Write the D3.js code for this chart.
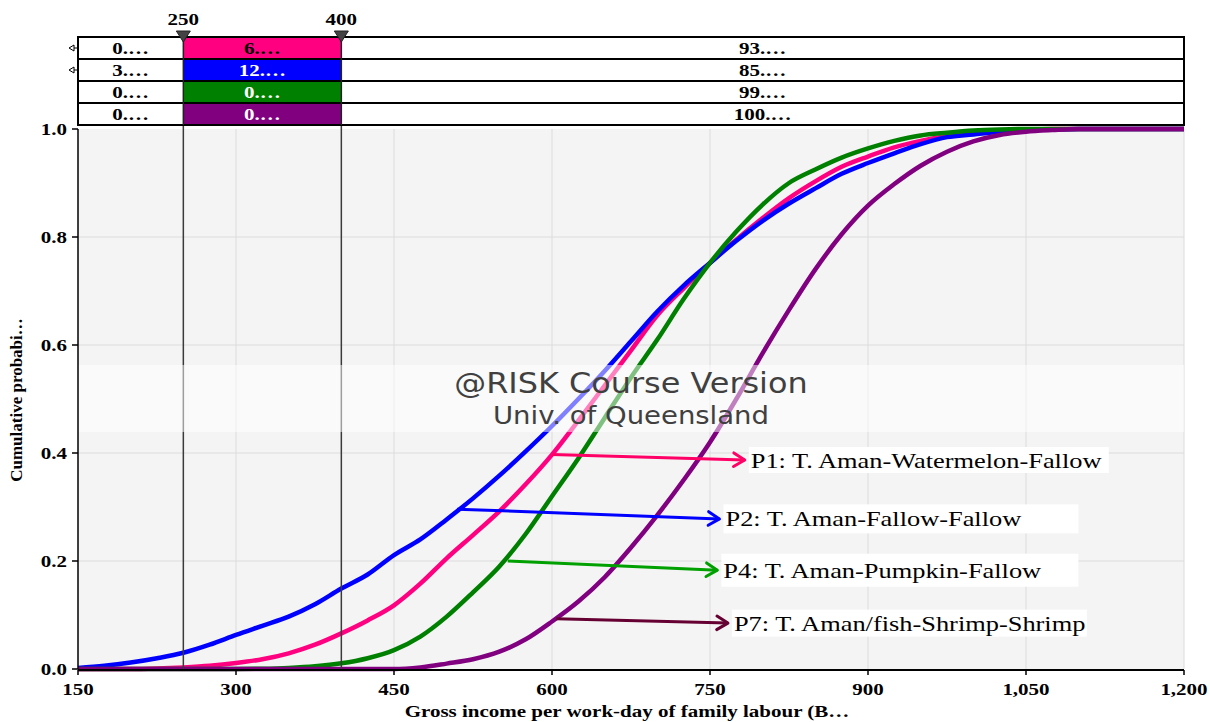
<!DOCTYPE html>
<html><head><meta charset="utf-8">
<script src="https://cdn.jsdelivr.net/npm/d3@7"></script>
<style>
body{margin:0;background:#fff;}
svg text{font-family:"Liberation Serif","Times New Roman",serif;}
</style>
</head><body>
<svg id="c" width="1210" height="722"></svg>
<script>
// ---------------- data ----------------
const incomeSteps = [150,175,200,225,250,275,300,325,350,375,400,425,450,475,500,525,550,575,600,625,650,675,700,725,750,775,800,825,850,875,900,925,950,975,1000,1025,1050,1075,1100,1125,1150,1175,1200];
const seriesNames = ["P1: T. Aman-Watermelon-Fallow","P2: T. Aman-Fallow-Fallow","P4: T. Aman-Pumpkin-Fallow","P7: T. Aman/fish-Shrimp-Shrimp"];
const cdfP1 = [0,0,0,0.001,0.003,0.006,0.011,0.018,0.029,0.045,0.066,0.09,0.118,0.158,0.205,0.248,0.292,0.342,0.397,0.46,0.525,0.59,0.655,0.705,0.752,0.795,0.835,0.872,0.903,0.93,0.949,0.966,0.978,0.987,0.993,0.997,0.999,1,1,1,1,1,1];
const cdfP2 = [0.002,0.006,0.012,0.02,0.03,0.045,0.063,0.08,0.097,0.12,0.149,0.175,0.211,0.24,0.277,0.316,0.358,0.403,0.45,0.5,0.552,0.607,0.662,0.71,0.752,0.793,0.83,0.862,0.89,0.917,0.937,0.955,0.972,0.985,0.99,0.995,0.998,0.999,1,1,1,1,1];
const cdfP4 = [0,0,0,0,0,0,0,0.0005,0.002,0.005,0.0105,0.02,0.035,0.06,0.097,0.142,0.19,0.25,0.32,0.39,0.465,0.54,0.61,0.685,0.752,0.81,0.86,0.9,0.925,0.947,0.964,0.978,0.988,0.993,0.997,0.999,1,1,1,1,1,1,1];
const cdfP7 = [0,0,0,0,0,0,0,0,0,0,0,0,0,0.003,0.01,0.018,0.032,0.055,0.088,0.125,0.17,0.225,0.285,0.35,0.42,0.5,0.585,0.665,0.74,0.805,0.858,0.898,0.932,0.958,0.977,0.989,0.995,0.998,1,1,1,1,1];
const xTicks = [150,300,450,600,750,900,1050,1200];
const yTicks = [0,0.2,0.4,0.6,0.8,1.0];
const markerValues = [250,400];
const bandLeft = ["0.…","3.…","0.…","0.…"];
const bandMid = ["6.…","12.…","0.…","0.…"];
const bandRight = ["93.…","85.…","99.…","100.…"];
const annoFromX = [600,510,558,604];
const annoFromY = [0.397,0.296,0.200,0.093];
const annoToX = [783,759,757,767];
const annoToY = [0.387,0.278,0.183,0.085];

// ---------------- style ----------------
const curveColors = ["#ff0080","#0000ff","#008000","#800080"];
const arrowColors = ["#ff0066","#0000ff","#00a000","#660033"];
const bandTextColors = ["#000","#fff","#fff","#fff"];
const boxW = [360,355,357,355], boxH = [26,29,33,27];
const SX = 1.2;
const FS = 17.5;

const svg = d3.select("#c");
const x = d3.scaleLinear().domain([150,1200]).range([78,1184]);
const y = d3.scaleLinear().domain([0,1]).range([669,129]);

function stretch(sel, anchor, s){
  sel.style("transform-box","fill-box")
     .style("transform-origin", anchor==="start"?"left center":anchor==="end"?"right center":"center")
     .style("transform","scaleX("+(s||SX)+")");
  return sel;
}

// plot background
svg.append("rect").attr("x",x(150)).attr("y",y(1)).attr("width",x(1200)-x(150)).attr("height",y(0)-y(1)).attr("fill","#f4f4f4");
// grid
svg.append("g").selectAll("line").data(xTicks.slice(1)).join("line")
  .attr("x1",d=>x(d)).attr("x2",d=>x(d)).attr("y1",y(1)).attr("y2",y(0)).attr("stroke","#dcdcdc").attr("stroke-width",1);
svg.append("g").selectAll("line").data(yTicks.slice(1,5)).join("line")
  .attr("x1",x(150)).attr("x2",x(1200)).attr("y1",d=>y(d)).attr("y2",d=>y(d)).attr("stroke","#dcdcdc").attr("stroke-width",1);

// curves
const allCdfs = [cdfP1,cdfP2,cdfP4,cdfP7];
const line = d3.line().x((d,i)=>x(incomeSteps[i])).y(d=>y(d)).curve(d3.curveMonotoneX);
svg.append("g").selectAll("path").data(allCdfs).join("path")
  .attr("d",d=>line(d)).attr("fill","none").attr("stroke",(d,i)=>curveColors[i]).attr("stroke-width",4.5).attr("stroke-linejoin","round");

// marker vertical lines
svg.append("g").selectAll("line").data(markerValues).join("line")
  .attr("x1",d=>x(d)).attr("x2",d=>x(d)).attr("y1",37).attr("y2",y(0)).attr("stroke","#3a3a3a").attr("stroke-width",1.5);

// watermark band
svg.append("rect").attr("x",x(150)).attr("y",365).attr("width",x(1200)-x(150)).attr("height",67).attr("fill","#fff").attr("opacity",0.5);
const mid = (x(150)+x(1200))/2;
stretch(svg.append("text").attr("x",mid).attr("y",393).attr("text-anchor","middle").style("font-family","'DejaVu Sans',sans-serif").attr("font-size",29).attr("fill","#404040").text("@RISK Course Version"),"middle",1.1);
stretch(svg.append("text").attr("x",mid).attr("y",424).attr("text-anchor","middle").style("font-family","'DejaVu Sans',sans-serif").attr("font-size",25).attr("fill","#404040").text("Univ. of Queensland"),"middle",1.1);

// annotations
const ann = svg.append("g");
seriesNames.forEach((name,i)=>{
  const x1=x(annoFromX[i]), y1=y(annoFromY[i]), x2=x(annoToX[i]), y2=y(annoToY[i]);
  ann.append("line").attr("x1",x1).attr("y1",y1).attr("x2",x2).attr("y2",y2).attr("stroke",arrowColors[i]).attr("stroke-width",3);
  const ang = Math.atan2(y2-y1,x2-x1);
  const L=13, A=0.55;
  ann.append("path").attr("d",`M${x2-L*Math.cos(ang-A)},${y2-L*Math.sin(ang-A)}L${x2},${y2}L${x2-L*Math.cos(ang+A)},${y2-L*Math.sin(ang+A)}`)
    .attr("fill","none").attr("stroke",arrowColors[i]).attr("stroke-width",3).attr("stroke-linejoin","round").attr("stroke-linecap","round");
  const bx = x2+4, by = y2 - boxH[i]/2;
  ann.append("rect").attr("x",bx).attr("y",by).attr("width",boxW[i]).attr("height",boxH[i]).attr("fill","#fff");
  stretch(ann.append("text").attr("x",bx+2).attr("y",y2+7.5).attr("font-size",22).attr("fill","#000").text(name),"start");
});

// axes
svg.append("line").attr("x1",x(150)).attr("x2",x(150)).attr("y1",y(1)).attr("y2",y(0)).attr("stroke","#000").attr("stroke-width",1.5);
svg.append("line").attr("x1",x(150)).attr("x2",x(1200)).attr("y1",y(0)+1).attr("y2",y(0)+1).attr("stroke","#000").attr("stroke-width",2);
svg.append("g").selectAll("line").data(yTicks).join("line")
  .attr("x1",x(150)-6).attr("x2",x(150)).attr("y1",d=>y(d)).attr("y2",d=>y(d)).attr("stroke","#000").attr("stroke-width",1.5);
svg.append("g").selectAll("line").data(xTicks).join("line")
  .attr("x1",d=>x(d)).attr("x2",d=>x(d)).attr("y1",y(0)+1).attr("y2",y(0)+6).attr("stroke","#000").attr("stroke-width",1.5);
const yl = svg.append("g").selectAll("text").data(yTicks).join("text")
  .attr("x",x(150)-11).attr("y",d=>y(d)+6).attr("text-anchor","end").attr("font-size",FS).attr("font-weight","bold").text(d3.format(".1f"));
stretch(yl,"end");
const fmt = d3.format(",");
const xl = svg.append("g").selectAll("text").data(xTicks).join("text")
  .attr("x",d=>x(d)).attr("y",y(0)+26).attr("text-anchor","middle").attr("font-size",FS).attr("font-weight","bold").text(d=>fmt(d));
stretch(xl,"middle");
stretch(svg.append("text").attr("x",627).attr("y",717).attr("text-anchor","middle").attr("font-size",FS).attr("font-weight","bold").text("Gross income per work-day of family labour (B…"),"middle");
svg.append("text").attr("transform","translate(22,400) rotate(-90)").attr("text-anchor","middle").attr("font-size",17).attr("font-weight","bold").text("Cumulative probabi…");

// top band table
const rowTop = 37, rowH = 22;
const tb = svg.append("g");
bandLeft.forEach((t,i)=>{
  const ry = rowTop + i*rowH;
  tb.append("rect").attr("x",x(150)).attr("y",ry).attr("width",x(1200)-x(150)).attr("height",rowH).attr("fill","#fff");
  tb.append("rect").attr("x",x(markerValues[0])).attr("y",ry).attr("width",x(markerValues[1])-x(markerValues[0])).attr("height",rowH).attr("fill",curveColors[i]);
  tb.append("rect").attr("x",x(150)).attr("y",ry).attr("width",x(1200)-x(150)).attr("height",rowH).attr("fill","none").attr("stroke","#000").attr("stroke-width",2);
  const cy = ry + rowH/2 + 6;
  stretch(tb.append("text").attr("x",(x(150)+x(markerValues[0]))/2).attr("y",cy).attr("text-anchor","middle").attr("font-size",FS).attr("font-weight","bold").text(t),"middle");
  stretch(tb.append("text").attr("x",(x(markerValues[0])+x(markerValues[1]))/2).attr("y",cy).attr("text-anchor","middle").attr("font-size",FS).attr("font-weight","bold").attr("fill",bandTextColors[i]).text(bandMid[i]),"middle");
  stretch(tb.append("text").attr("x",(x(markerValues[1])+x(1200))/2).attr("y",cy).attr("text-anchor","middle").attr("font-size",FS).attr("font-weight","bold").text(bandRight[i]),"middle");
});
// vertical separators in band
tb.selectAll("line.sep").data(markerValues).join("line")
  .attr("x1",d=>x(d)).attr("x2",d=>x(d)).attr("y1",rowTop).attr("y2",rowTop+4*rowH).attr("stroke","#222").attr("stroke-width",1.5);
// left overflow arrows rows 1,2
[0,1].forEach(i=>{
  const cy = rowTop + i*rowH + rowH/2;
  tb.append("line").attr("x1",70).attr("x2",77).attr("y1",cy).attr("y2",cy).attr("stroke","#000").attr("stroke-width",1);
  tb.append("path").attr("d",`M${69},${cy}L${74},${cy-3}L${74},${cy+3}Z`).attr("fill","#fff").attr("stroke","#000").attr("stroke-width",1);
});
// marker triangles and labels
markerValues.forEach(v=>{
  tb.append("path").attr("d",`M${x(v)-7},${31}L${x(v)+7},${31}L${x(v)},${42}Z`).attr("fill","#444").attr("stroke","#222").attr("stroke-width",1);
  stretch(tb.append("text").attr("x",x(v)).attr("y",25).attr("text-anchor","middle").attr("font-size",FS).attr("font-weight","bold").text(v),"middle");
});
</script>
</body></html>
